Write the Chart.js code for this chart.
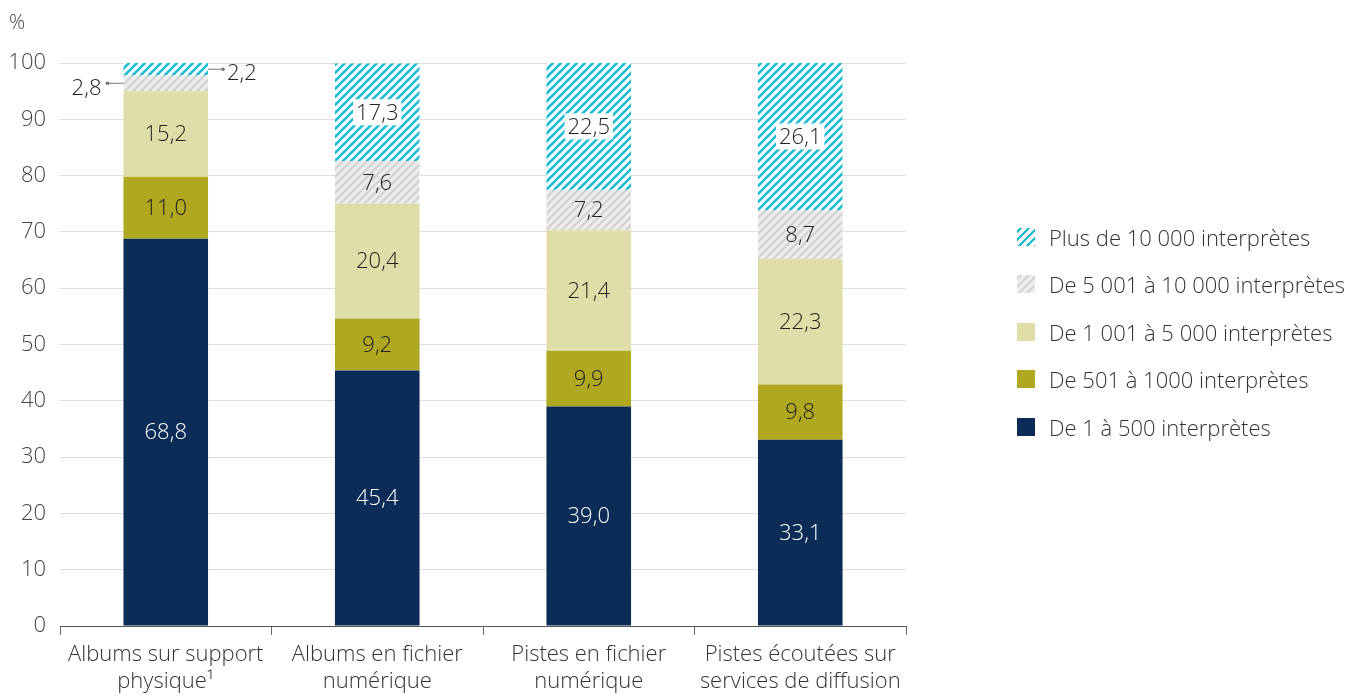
<!DOCTYPE html>
<html>
<head>
<meta charset="utf-8">
<script src="https://cdn.jsdelivr.net/npm/chart.js@4.4.1/dist/chart.umd.min.js"></script>
<style>
  body { margin: 0; background: #fff; font-family: "Open Sans", sans-serif; }
  #wrap { position: relative; width: 1367px; height: 696px; }
  #unit { position: absolute; left: 9px; top: 8px; font-size: 20px; font-weight: 300; color: #444; }
  #legend { position: absolute; left: 1017px; top: 213px; }
  .item { display: flex; align-items: center; height: 47.5px; font-size: 22px; font-weight: 300; color: #333; }
  .sw { width: 18px; height: 18px; margin-right: 14px; }
</style>
</head>
<body>
<div id="wrap">
  <canvas id="chart" width="1367" height="696"></canvas>
  <div id="unit">%</div>
  <div id="legend"></div>
</div>
<script>
const categories = [
  ['Albums sur support', 'physique\u00b9'],
  ['Albums en fichier', 'numérique'],
  ['Pistes en fichier', 'numérique'],
  ['Pistes écoutées sur', 'services de diffusion']
];
const seriesNames = [
  'De 1 à 500 interprètes',
  'De 501 à 1000 interprètes',
  'De 1 001 à 5 000 interprètes',
  'De 5 001 à 10 000 interprètes',
  'Plus de 10 000 interprètes'
];
const s1to500 = [68.8, 45.4, 39.0, 33.1];
const s501to1000 = [11.0, 9.2, 9.9, 9.8];
const s1001to5000 = [15.2, 20.4, 21.4, 22.3];
const s5001to10000 = [2.8, 7.6, 7.2, 8.7];
const sOver10000 = [2.2, 17.3, 22.5, 26.1];
const yTicks = [0, 10, 20, 30, 40, 50, 60, 70, 80, 90, 100];

function hatch(bg, fg) {
  const c = document.createElement('canvas');
  c.width = 8; c.height = 8;
  const g = c.getContext('2d');
  g.fillStyle = bg; g.fillRect(0, 0, 8, 8);
  g.strokeStyle = fg; g.lineWidth = 2.6;
  g.beginPath();
  g.moveTo(-2, 10); g.lineTo(10, -2);
  g.moveTo(-2, 2); g.lineTo(2, -2);
  g.moveTo(6, 10); g.lineTo(10, 6);
  g.stroke();
  return c;
}

const ctx = document.getElementById('chart').getContext('2d');
const cyanHatch = ctx.createPattern(hatch('#ffffff', '#17bcd3'), 'repeat');
const grayHatch = ctx.createPattern(hatch('#eeeeee', '#d4d4d4'), 'repeat');
const fills = ['#0b2c57', '#b0a820', '#e0dea8', grayHatch, cyanHatch];
const values = [s1to500, s501to1000, s1001to5000, s5001to10000, sOver10000];

// legend (top series first)
const legend = document.getElementById('legend');
const swatchCss = [
  '#0b2c57', '#b0a820', '#e0dea8',
  'repeating-linear-gradient(135deg, #eee 0 2px, #d4d4d4 2px 4px, #eee 4px 5.6px)',
  'repeating-linear-gradient(135deg, #fff 0 2px, #17bcd3 2px 4px, #fff 4px 5.6px)'
];
for (let i = seriesNames.length - 1; i >= 0; i--) {
  const d = document.createElement('div');
  d.className = 'item';
  d.innerHTML = '<div class="sw" style="background:' + swatchCss[i] + '"></div>' + seriesNames[i];
  legend.appendChild(d);
}

const fmt = v => v.toFixed(1).replace('.', ',');

const labelPlugin = {
  id: 'segLabels',
  afterDatasetsDraw(chart) {
    const g = chart.ctx;
    g.save();
    g.font = '300 22px "Open Sans"';
    g.textBaseline = 'middle';
    chart.data.datasets.forEach((ds, di) => {
      const meta = chart.getDatasetMeta(di);
      meta.data.forEach((bar, i) => {
        const v = ds.data[i];
        const yc = (bar.y + bar.base) / 2;
        if (i === 0 && di >= 3) {
          // small segments: label outside with leader line
          g.strokeStyle = '#777'; g.fillStyle = '#777'; g.lineWidth = 1;
          const left = di === 3;
          const edge = left ? bar.x - bar.width / 2 : bar.x + bar.width / 2;
          const end = left ? edge - 16 : edge + 15;
          g.beginPath(); g.moveTo(edge, yc); g.lineTo(end, yc); g.stroke();
          g.beginPath(); g.arc(end, yc, 1.8, 0, Math.PI * 2); g.fill();
          g.fillStyle = '#222';
          g.textAlign = left ? 'right' : 'left';
          g.fillText(fmt(v), left ? end - 6 : end + 4, yc + 5);
          return;
        }
        g.textAlign = 'center';
        const t = fmt(v);
        if (di === 4) {
          const w = g.measureText(t).width;
          g.fillStyle = '#fff';
          g.fillRect(bar.x - w / 2 - 3, yc - 13, w + 6, 26);
        }
        g.fillStyle = di === 0 ? '#fff' : '#222';
        g.fillText(t, bar.x, yc + 1);
      });
    });
    g.restore();
  }
};

new Chart(ctx, {
  type: 'bar',
  data: {
    labels: categories,
    datasets: values.map((vals, i) => ({
      label: seriesNames[i],
      data: vals,
      backgroundColor: fills[i],
      borderWidth: 0,
      categoryPercentage: 1,
      barPercentage: 0.4
    }))
  },
  options: {
    responsive: false,
    animation: false,
    layout: { padding: { top: 63, right: 461, left: 0, bottom: 0 } },
    plugins: { legend: { display: false }, tooltip: { enabled: false } },
    scales: {
      x: {
        stacked: true,
        offset: true,
        grid: { offset: true, drawOnChartArea: false, drawTicks: true, tickLength: 9, color: '#666' },
        border: { display: true, color: '#555' },
        ticks: { color: '#333', font: { family: 'Open Sans', size: 22, weight: 300, lineHeight: 1.22 }, padding: 6, maxRotation: 0 },
        afterFit(s) { s.height = 70; }
      },
      y: {
        stacked: true,
        min: 0, max: 100,
        afterBuildTicks(s) { s.ticks = yTicks.map(v => ({ value: v })); },
        grid: { color: '#dedede', drawTicks: false },
        border: { display: false },
        ticks: { color: '#444', font: { family: 'Open Sans', size: 22, weight: 300 }, padding: 14 },
        afterFit(s) { s.width = 60; }
      }
    }
  },
  plugins: [labelPlugin]
});
</script>
</body>
</html>
